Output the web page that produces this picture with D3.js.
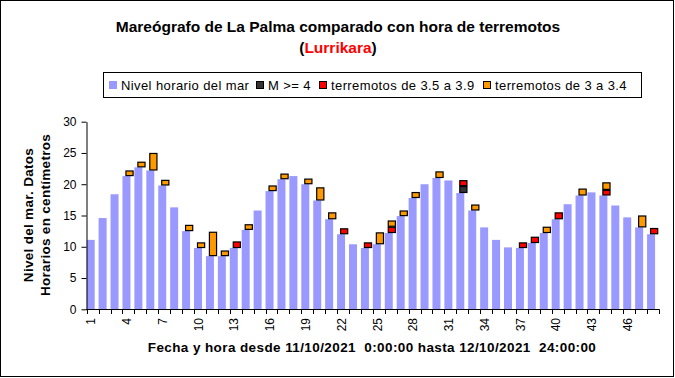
<!DOCTYPE html>
<html>
<head>
<meta http-equiv="Content-Type" content="text/html; charset=UTF-8">
<style>
body { margin: 0; background: #fff; }
text { font-family: Arial, "Liberation Sans", sans-serif; fill: #000; }
</style>
</head>
<body>
<svg width="675" height="378"></svg>
<script src="https://cdn.jsdelivr.net/npm/d3@7/dist/d3.min.js"></script>
<script>

// hourly sea level (cm), hours 1..48
var horas = d3.range(1, 49);
var nivel = [11.1, 14.6, 18.4, 21.3, 22.7, 22.2, 19.8, 16.3, 12.5, 9.8,
             8.5, 8.5, 9.8, 12.7, 15.8, 18.9, 20.8, 21.3, 20.0, 17.4,
             14.4, 12.0, 10.4, 9.8, 10.4, 12.2, 14.9, 17.8, 20.0, 21.0,
             20.6, 18.6, 15.8, 13.1, 11.1, 9.9, 9.8, 10.6, 12.2, 14.4,
             16.8, 18.2, 18.7, 18.2, 16.6, 14.7, 13.1, 12.0];

// earthquake markers, stacked on top of the sea level bar
var m4 = [0, 0, 0, 0, 0, 0, 0, 0, 0, 0,
          0, 0, 0, 0, 0, 0, 0, 0, 0, 0,
          0, 0, 0, 0, 0, 0, 0, 0, 0, 0,
          0, 1.1, 0, 0, 0, 0, 0, 0, 0, 0,
          0, 0, 0, 0, 0, 0, 0, 0];
var m35 = [0, 0, 0, 0, 0, 0, 0, 0, 0, 0,
           0, 0, 1.05, 0, 0, 0, 0, 0, 0, 0,
           0, 0.95, 0, 0.9, 0, 1.0, 0, 0, 0, 0,
           0, 0.95, 0, 0, 0, 0, 0.9, 1.0, 0, 1.1,
           0, 0, 0, 0.9, 0, 0, 0, 1.0];
var m30 = [0, 0, 0, 0.9, 0.9, 2.8, 0.9, 0, 1.0, 0.9,
           3.9, 0.9, 0, 0.9, 0, 0.9, 0.9, 0, 0.9, 2.1,
           1.1, 0, 0, 0, 1.9, 1.0, 0.9, 0.95, 0, 1.05,
           0, 0, 0.95, 0, 0, 0, 0, 0, 1.0, 0,
           0, 1.1, 0, 1.2, 0, 0, 1.9, 0];

var xTicks = [1, 4, 7, 10, 13, 16, 19, 22, 25, 28, 31, 34, 37, 40, 43, 46];
var yTicks = [0, 5, 10, 15, 20, 25, 30];

var series = [
  { key: "nivel", label: "Nivel horario del mar", color: "#9999ff" },
  { key: "m4", label: "M >= 4", color: "#333333" },
  { key: "m35", label: "terremotos de 3.5 a 3.9", color: "#ff0000" },
  { key: "m30", label: "terremotos de 3 a 3.4", color: "#ff9900" }
];

var table = horas.map(function(h, i) {
  return { hora: h, nivel: nivel[i], m4: m4[i], m35: m35[i], m30: m30[i] };
});

var svg = d3.select("svg");

svg.append("rect")
    .attr("x", 0.5).attr("y", 0.5)
    .attr("width", 673).attr("height", 376)
    .attr("fill", "#fff").attr("stroke", "#000");

var x = d3.scaleBand().domain(horas).range([86.7, 659]).padding(0),
    y = d3.scaleLinear().domain([0, 30]).range([309.3, 121.7]);

var bw = x.bandwidth();

var stack = d3.stack().keys(series.map(function(s) { return s.key; }));
var layers = stack(table);

// sea level bars
svg.append("g")
  .selectAll("rect")
  .data(layers[0])
  .enter().append("rect")
    .attr("x", function(d) { return x(d.data.hora); })
    .attr("y", function(d) { return y(d[1]); })
    .attr("width", bw * 0.67)
    .attr("height", function(d) { return y(d[0]) - y(d[1]); })
    .attr("fill", series[0].color);

// earthquake markers
layers.slice(1).forEach(function(layer, k) {
  svg.append("g")
    .selectAll("rect")
    .data(layer.filter(function(d) { return d[1] - d[0] > 0; }))
    .enter().append("rect")
      .attr("x", function(d) { return x(d.data.hora) + bw * 0.25 + 0.5; })
      .attr("y", function(d) { return y(d[1]) + 0.5; })
      .attr("width", bw * 0.6)
      .attr("height", function(d) { return y(d[0]) - y(d[1]) - 1; })
      .attr("fill", series[k + 1].color)
      .attr("stroke", "#000")
      .attr("stroke-width", 1.2);
});

// y axis
var yAxis = svg.append("g")
    .attr("transform", "translate(86.5,0)")
    .call(d3.axisLeft(y).tickValues(yTicks).tickSize(5).tickSizeOuter(0).tickPadding(5));
yAxis.selectAll("text").style("font-size", "12px").style("font-family", "Arial, 'Liberation Sans', sans-serif");
yAxis.select(".domain").attr("stroke", "#000");

// x axis: boundary ticks
svg.append("line")
    .attr("x1", 86).attr("x2", 659.5)
    .attr("y1", 309.5).attr("y2", 309.5)
    .attr("stroke", "#000");
svg.append("g")
  .selectAll("line")
  .data(horas.concat([49]))
  .enter().append("line")
    .attr("x1", function(h) { return Math.round(h > 48 ? x(48) + bw : x(h)) + 0.5; })
    .attr("x2", function(h) { return Math.round(h > 48 ? x(48) + bw : x(h)) + 0.5; })
    .attr("y1", 309.5).attr("y2", 314)
    .attr("stroke", "#000");

svg.append("g")
  .selectAll("text")
  .data(xTicks)
  .enter().append("text")
    .attr("transform", function(h) {
      return "translate(" + (x(h) + bw / 2 - 1.5) + ",318) rotate(-90)";
    })
    .attr("dy", "0.35em")
    .style("text-anchor", "end")
    .style("font-size", "12px")
    .text(function(h) { return h; });

// titles
svg.append("text")
    .attr("x", 338).attr("y", 32)
    .style("text-anchor", "middle")
    .style("font-size", "15.5px")
    .style("font-weight", "bold")
    .text("Mareógrafo de La Palma comparado con hora de terremotos");

var sub = svg.append("text")
    .attr("x", 338).attr("y", 53)
    .style("text-anchor", "middle")
    .style("font-size", "15.5px")
    .style("font-weight", "bold");
sub.append("tspan").text("(");
sub.append("tspan").style("fill", "#ff0000").text("Lurrikara");
sub.append("tspan").text(")");

svg.append("text")
    .attr("x", 372).attr("y", 352)
    .style("text-anchor", "middle")
    .style("font-size", "13.5px")
    .style("font-weight", "bold")
    .style("letter-spacing", "0.4px")
    .style("white-space", "pre")
    .text("Fecha y hora desde 11/10/2021  0:00:00 hasta 12/10/2021  24:00:00");

svg.append("text")
    .attr("transform", "translate(33,215) rotate(-90)")
    .style("text-anchor", "middle")
    .style("font-size", "13.5px")
    .style("font-weight", "bold")
    .style("letter-spacing", "0.3px")
    .text("Nivel del mar. Datos");
svg.append("text")
    .attr("transform", "translate(50,215) rotate(-90)")
    .style("text-anchor", "middle")
    .style("font-size", "13.5px")
    .style("font-weight", "bold")
    .style("letter-spacing", "0.3px")
    .text("Horarios en centímetros");

// legend
var legendX = [109, 256, 319, 483];
var legend = svg.append("g");
legend.append("rect")
    .attr("x", 103.5).attr("y", 72.5)
    .attr("width", 538).attr("height", 25)
    .attr("fill", "#fff").attr("stroke", "#000");

var item = legend.selectAll(".item")
    .data(series)
    .enter().append("g")
      .attr("class", "item")
      .attr("transform", function(d, i) { return "translate(" + legendX[i] + ",0)"; });

item.append("rect")
    .attr("x", function(d, i) { return i === 0 ? 0 : 0.5; })
    .attr("y", function(d, i) { return i === 0 ? 81 : 81.5; })
    .attr("width", function(d, i) { return i === 0 ? 8 : 7; })
    .attr("height", function(d, i) { return i === 0 ? 8 : 7; })
    .attr("fill", function(d) { return d.color; })
    .attr("stroke", function(d, i) { return i === 0 ? "none" : "#000"; });

item.append("text")
    .attr("x", 12)
    .attr("y", 89.5)
    .style("font-size", "13px")
    .style("letter-spacing", "0.4px")
    .text(function(d) { return d.label; });

</script>
</body></html>
